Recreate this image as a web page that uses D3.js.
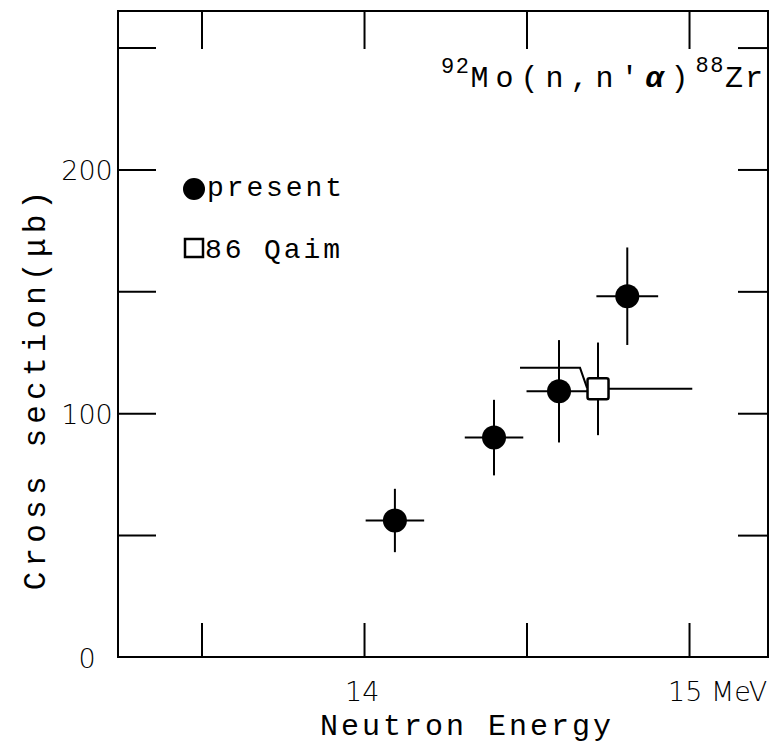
<!DOCTYPE html>
<html>
<head>
<meta charset="utf-8">
<script src="https://cdn.jsdelivr.net/npm/d3@7"></script>
<style>
  html, body { margin: 0; padding: 0; background: #fff; }
  svg { display: block; }
  .mono { font-family: "Liberation Mono", "DejaVu Sans Mono", monospace; fill: #000; }
  .thin { font-family: "DejaVu Sans", "Lato", sans-serif; font-weight: 200; fill: #000; }
</style>
</head>
<body>
<svg id="chart" width="770" height="747"></svg>
<script>
// Present measurement: neutron energy (MeV), cross section (μb), and their uncertainties
const presentEnergy = [14.095, 14.40, 14.60, 14.81];
const presentEnergyErr = [0.09, 0.09, 0.10, 0.095];
const presentSigma = [56, 90, 109, 148];
const presentSigmaErr = [13, 15.5, 21, 20];

// Qaim (1986) point with its asymmetric energy span
const qaimEnergy = [14.72];
const qaimEnergyLo = [14.48];
const qaimEnergyHi = [15.01];
const qaimSigma = [110];
const qaimSigmaErr = [19];

// Axis ticks and labels
const xTicks = [13.5, 14, 14.5, 15];
const xTickLabels = [{ v: 14, t: "14", dx: -19 }, { v: 15, t: "15 MeV", dx: -21 }];
const yTicks = [50, 100, 150, 200, 250];
const yTickLabels = [0, 100, 200];

const svg = d3.select("#chart");
const plotL = 118, plotR = 768, plotT = 11, plotB = 657;

const x = d3.scaleLinear().domain([13.243, 15.243]).range([plotL, plotR]);
const y = d3.scaleLinear().domain([0, 265]).range([plotB, plotT]);

// Frame
svg.append("rect")
  .attr("x", plotL).attr("y", plotT)
  .attr("width", plotR - plotL).attr("height", plotB - plotT)
  .attr("fill", "none").attr("stroke", "#000").attr("stroke-width", 2);

// Inward ticks on all four sides
const tickLen = 38;
const axB = svg.append("g").attr("transform", `translate(0,${plotB})`)
  .call(d3.axisTop(x).tickValues(xTicks).tickSize(34).tickFormat(""));
const axT = svg.append("g").attr("transform", `translate(0,${plotT})`)
  .call(d3.axisBottom(x).tickValues(xTicks).tickSize(tickLen).tickFormat(""));
const axL = svg.append("g").attr("transform", `translate(${plotL},0)`)
  .call(d3.axisRight(y).tickValues(yTicks).tickSize(tickLen).tickFormat(""));
const axR = svg.append("g").attr("transform", `translate(${plotR},0)`)
  .call(d3.axisLeft(y).tickValues(yTicks).tickSize(30).tickFormat(""));
[axB, axT, axL, axR].forEach(g => {
  g.select(".domain").remove();
  g.selectAll("line").attr("stroke", "#000").attr("stroke-width", 2);
});

// Tick labels
svg.selectAll(".ylab").data(yTickLabels).join("text")
  .attr("class", "thin")
  .attr("x", plotL - 31).attr("y", d => y(d) + 11)
  .attr("text-anchor", "middle")
  .attr("font-size", 27)
  .text(d => d);

svg.selectAll(".xlab").data(xTickLabels).join("text")
  .attr("class", "thin")
  .attr("x", d => x(d.v) + d.dx).attr("y", 701)
  .attr("font-size", 27)
  .text(d => d.t);

// Axis titles
svg.append("text").attr("class", "mono")
  .attr("x", 467).attr("y", 735)
  .attr("text-anchor", "middle")
  .attr("font-size", 30).attr("letter-spacing", 3)
  .text("Neutron Energy");

svg.append("text").attr("class", "mono")
  .attr("transform", "translate(45,388) rotate(-90)")
  .attr("text-anchor", "middle")
  .attr("font-size", 31).attr("letter-spacing", 5.2)
  .text("Cross section(μb)");

// Reaction label
const title = svg.append("text").attr("class", "mono")
  .attr("x", 441).attr("y", 87).attr("font-size", 30).attr("letter-spacing", 7);
title.append("tspan").attr("font-size", 22).attr("letter-spacing", 1.5).attr("dy", -14).text("92");
title.append("tspan").attr("dy", 14).text("Mo(n,n'");
title.append("tspan").attr("font-style", "italic").attr("font-weight", "bold").text("α");
title.append("tspan").text(")");
title.append("tspan").attr("font-size", 22).attr("letter-spacing", 1.5).attr("dy", -15).text("88");
title.append("tspan").attr("dy", 15).attr("letter-spacing", 2).text("Zr");

// Error bars and markers, present work
const present = presentEnergy.map((e, i) => ({
  e, de: presentEnergyErr[i], s: presentSigma[i], ds: presentSigmaErr[i]
}));
const pg = svg.append("g");
pg.selectAll(".hbar").data(present).join("line")
  .attr("x1", d => x(d.e - d.de)).attr("x2", d => x(d.e + d.de))
  .attr("y1", d => y(d.s)).attr("y2", d => y(d.s))
  .attr("stroke", "#000").attr("stroke-width", 2);
pg.selectAll(".vbar").data(present).join("line")
  .attr("x1", d => x(d.e)).attr("x2", d => x(d.e))
  .attr("y1", d => y(d.s - d.ds)).attr("y2", d => y(d.s + d.ds))
  .attr("stroke", "#000").attr("stroke-width", 2);
pg.selectAll("circle").data(present).join("circle")
  .attr("cx", d => x(d.e)).attr("cy", d => y(d.s)).attr("r", 12)
  .attr("fill", "#000");

// Qaim point: the low-energy arm is drawn displaced upward so it clears the neighbour
const qaim = qaimEnergy.map((e, i) => ({
  e, lo: qaimEnergyLo[i], hi: qaimEnergyHi[i], s: qaimSigma[i], ds: qaimSigmaErr[i]
}));
const qg = svg.append("g");
qg.selectAll(".qv").data(qaim).join("line")
  .attr("x1", d => x(d.e)).attr("x2", d => x(d.e))
  .attr("y1", d => y(d.s - d.ds)).attr("y2", d => y(d.s + d.ds))
  .attr("stroke", "#000").attr("stroke-width", 2);
qg.selectAll(".qr").data(qaim).join("line")
  .attr("x1", d => x(d.e)).attr("x2", d => x(d.hi))
  .attr("y1", d => y(d.s)).attr("y2", d => y(d.s))
  .attr("stroke", "#000").attr("stroke-width", 2);
qg.selectAll(".ql").data(qaim).join("path")
  .attr("d", d => {
    const cx = x(d.e), cy = y(d.s);
    return `M${x(d.lo)},${cy - 21}L${cx - 18},${cy - 21}L${cx - 11},${cy - 1}`;
  })
  .attr("fill", "none").attr("stroke", "#000").attr("stroke-width", 2);
qg.selectAll("rect").data(qaim).join("rect")
  .attr("x", d => x(d.e) - 10.5).attr("y", d => y(d.s) - 10.5)
  .attr("width", 21).attr("height", 21).attr("rx", 2)
  .attr("fill", "#fff").attr("stroke", "#000").attr("stroke-width", 2.5);

// Legend
const lg = svg.append("g");
lg.append("circle").attr("cx", 194).attr("cy", 189).attr("r", 11).attr("fill", "#000");
lg.append("text").attr("class", "mono").attr("x", 207).attr("y", 196)
  .attr("font-size", 28).attr("letter-spacing", 2.9).text("present");
lg.append("rect").attr("x", 185).attr("y", 239).attr("width", 18).attr("height", 18)
  .attr("fill", "#fff").attr("stroke", "#000").attr("stroke-width", 2.5);
lg.append("text").attr("class", "mono").attr("x", 205).attr("y", 258)
  .attr("font-size", 28).attr("letter-spacing", 2.9).text("86 Qaim");
</script>
</body>
</html>
